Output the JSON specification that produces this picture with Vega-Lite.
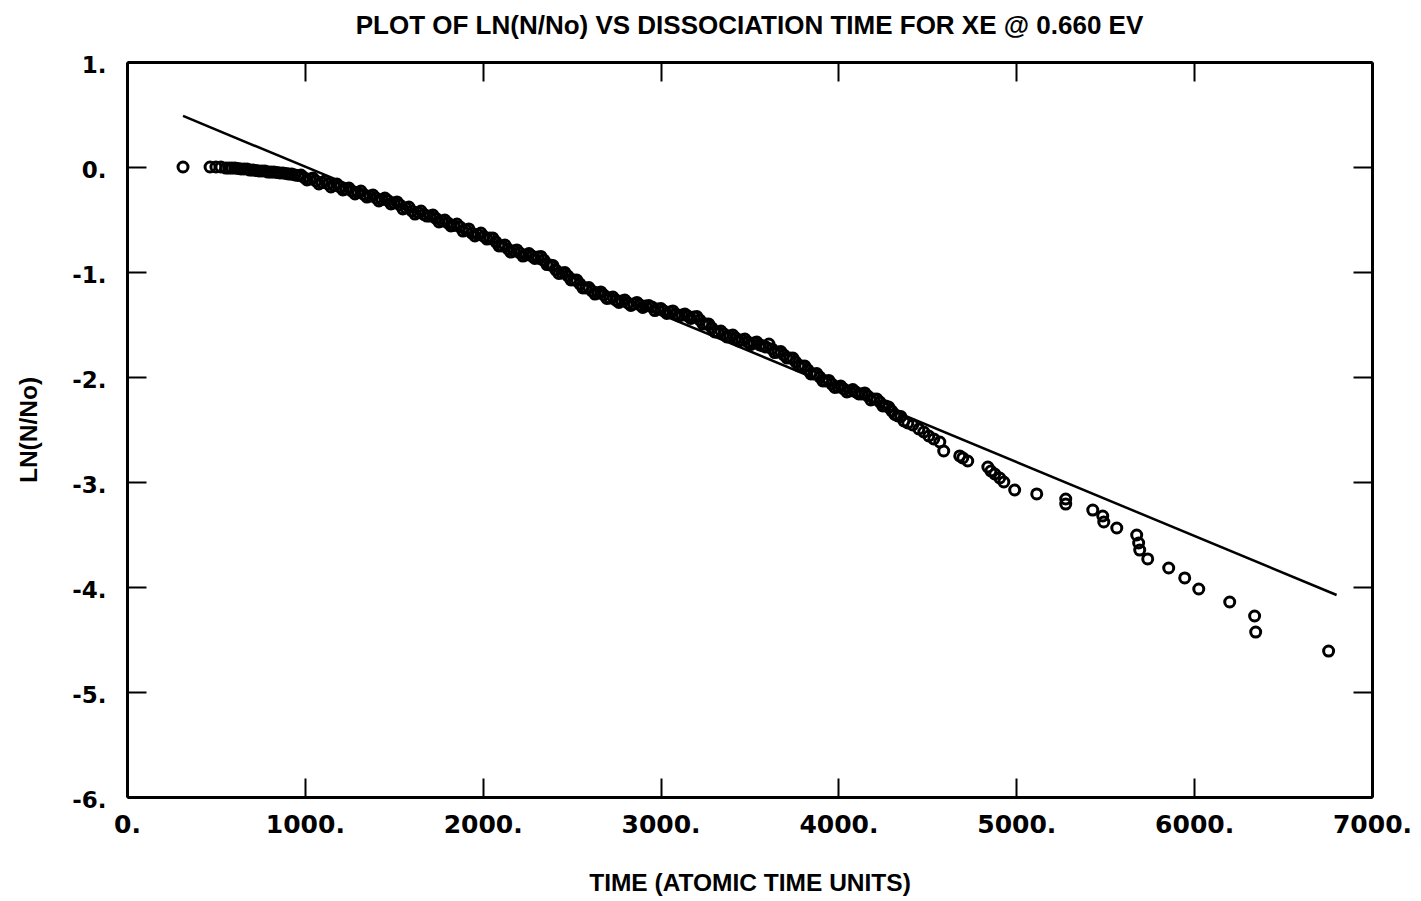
{
  "$schema": "https://vega.github.io/schema/vega-lite/v6.json",
  "width": 1245,
  "height": 735,
  "autosize": {"type": "none"},
  "padding": {"left": 127, "top": 62, "right": 49, "bottom": 104},
  "background": "white",
  "title": {
    "text": "PLOT OF LN(N/No) VS DISSOCIATION TIME FOR XE @ 0.660 EV",
    "font": "Liberation Sans",
    "fontSize": 26,
    "fontWeight": "bold",
    "color": "black",
    "anchor": "middle",
    "offset": 15
  },
  "config": {
    "view": {"stroke": null},
    "axis": {
      "grid": false,
      "domainColor": "black",
      "domainWidth": 3,
      "tickColor": "black",
      "tickWidth": 2,
      "tickSize": -19,
      "labelColor": "black",
      "labelFont": "DejaVu Sans",
      "labelFontWeight": "bold",
      "labelFontSize": 23,
      "labelFlush": false,
      "labelOverlap": false,
      "titleColor": "black",
      "titleFont": "Liberation Sans",
      "titleFontSize": 24.5,
      "titleFontWeight": "bold"
    }
  },
  "datasets": {
    "pts": [
      {"t":315,"v":0},{"t":467,"v":0},{"t":500,"v":0},{"t":528,"v":0},
      {"t":556,"v":-0.010},{"t":590,"v":-0.010},{"t":624,"v":-0.014},{"t":658,"v":-0.019},{"t":691,"v":-0.029},{"t":725,"v":-0.033},{"t":759,"v":-0.038},{"t":793,"v":-0.048},{"t":826,"v":-0.048},{"t":860,"v":-0.057},{"t":894,"v":-0.062},{"t":927,"v":-0.067},{"t":961,"v":-0.081},{"t":995,"v":-0.100},{"t":1029,"v":-0.114},{"t":1062,"v":-0.133},{"t":1096,"v":-0.148},{"t":1130,"v":-0.162},{"t":1164,"v":-0.176},{"t":1197,"v":-0.190},{"t":1231,"v":-0.210},{"t":1265,"v":-0.229},{"t":1298,"v":-0.243},{"t":1332,"v":-0.262},{"t":1366,"v":-0.276},{"t":1400,"v":-0.295},{"t":1433,"v":-0.310},{"t":1467,"v":-0.319},{"t":1501,"v":-0.343},{"t":1535,"v":-0.362},{"t":1568,"v":-0.390},{"t":1602,"v":-0.419},{"t":1636,"v":-0.433},{"t":1669,"v":-0.452},{"t":1703,"v":-0.467},{"t":1737,"v":-0.490},{"t":1771,"v":-0.514},{"t":1804,"v":-0.533},{"t":1838,"v":-0.557},{"t":1872,"v":-0.571},{"t":1906,"v":-0.600},{"t":1939,"v":-0.629},{"t":1973,"v":-0.643},{"t":2007,"v":-0.662},{"t":2040,"v":-0.676},{"t":2074,"v":-0.714},{"t":2108,"v":-0.752},{"t":2142,"v":-0.781},{"t":2175,"v":-0.800},{"t":2209,"v":-0.819},{"t":2243,"v":-0.838},{"t":2277,"v":-0.848},{"t":2310,"v":-0.857},{"t":2344,"v":-0.886},{"t":2378,"v":-0.933},{"t":2411,"v":-0.981},{"t":2445,"v":-1.010},{"t":2479,"v":-1.038},{"t":2513,"v":-1.076},{"t":2546,"v":-1.114},{"t":2580,"v":-1.152},{"t":2614,"v":-1.181},{"t":2648,"v":-1.200},{"t":2681,"v":-1.219},{"t":2715,"v":-1.248},{"t":2749,"v":-1.267},{"t":2782,"v":-1.276},{"t":2816,"v":-1.295},{"t":2850,"v":-1.305},{"t":2884,"v":-1.314},{"t":2917,"v":-1.324},{"t":2951,"v":-1.333},{"t":2985,"v":-1.352},{"t":3018,"v":-1.371},{"t":3052,"v":-1.381},{"t":3086,"v":-1.400},{"t":3120,"v":-1.410},{"t":3153,"v":-1.419},{"t":3187,"v":-1.429},{"t":3221,"v":-1.457},{"t":3255,"v":-1.495},{"t":3288,"v":-1.533},{"t":3322,"v":-1.571},{"t":3356,"v":-1.590},{"t":3389,"v":-1.610},{"t":3423,"v":-1.629},{"t":3457,"v":-1.648},{"t":3491,"v":-1.667},{"t":3524,"v":-1.676},{"t":3558,"v":-1.695},{"t":3592,"v":-1.714},{"t":3626,"v":-1.733},{"t":3659,"v":-1.762},{"t":3693,"v":-1.790},{"t":3727,"v":-1.819},{"t":3760,"v":-1.857},{"t":3794,"v":-1.895},{"t":3828,"v":-1.933},{"t":3862,"v":-1.971},{"t":3895,"v":-2.000},{"t":3929,"v":-2.038},{"t":3963,"v":-2.067},{"t":3997,"v":-2.095},{"t":4030,"v":-2.114},{"t":4064,"v":-2.133},{"t":4098,"v":-2.143},{"t":4131,"v":-2.162},{"t":4165,"v":-2.181},{"t":4199,"v":-2.210},{"t":4233,"v":-2.238},{"t":4266,"v":-2.276},{"t":4300,"v":-2.324},{"t":4334,"v":-2.371},{"t":4368,"v":-2.419},
      {"t":573,"v":-0.010},{"t":607,"v":-0.010},{"t":641,"v":-0.019},{"t":675,"v":-0.019},{"t":708,"v":-0.029},{"t":742,"v":-0.038},{"t":776,"v":-0.038},{"t":809,"v":-0.048},{"t":843,"v":-0.052},{"t":877,"v":-0.057},{"t":911,"v":-0.067},{"t":944,"v":-0.076},{"t":978,"v":-0.076},{"t":1012,"v":-0.124},{"t":1046,"v":-0.105},{"t":1079,"v":-0.162},{"t":1113,"v":-0.133},{"t":1147,"v":-0.190},{"t":1180,"v":-0.162},{"t":1214,"v":-0.219},{"t":1248,"v":-0.200},{"t":1282,"v":-0.257},{"t":1315,"v":-0.229},{"t":1349,"v":-0.286},{"t":1383,"v":-0.267},{"t":1416,"v":-0.324},{"t":1450,"v":-0.295},{"t":1484,"v":-0.352},{"t":1518,"v":-0.333},{"t":1551,"v":-0.400},{"t":1585,"v":-0.381},{"t":1619,"v":-0.448},{"t":1653,"v":-0.419},{"t":1686,"v":-0.467},{"t":1720,"v":-0.457},{"t":1754,"v":-0.524},{"t":1787,"v":-0.505},{"t":1821,"v":-0.562},{"t":1855,"v":-0.543},{"t":1889,"v":-0.610},{"t":1922,"v":-0.590},{"t":1956,"v":-0.657},{"t":1990,"v":-0.629},{"t":2024,"v":-0.686},{"t":2057,"v":-0.676},{"t":2091,"v":-0.752},{"t":2125,"v":-0.743},{"t":2158,"v":-0.810},{"t":2192,"v":-0.790},{"t":2226,"v":-0.848},{"t":2260,"v":-0.824},{"t":2293,"v":-0.871},{"t":2327,"v":-0.852},{"t":2361,"v":-0.929},{"t":2395,"v":-0.938},{"t":2428,"v":-1.014},{"t":2462,"v":-1.005},{"t":2496,"v":-1.076},{"t":2529,"v":-1.076},{"t":2563,"v":-1.152},{"t":2597,"v":-1.148},{"t":2631,"v":-1.210},{"t":2664,"v":-1.190},{"t":2698,"v":-1.252},{"t":2732,"v":-1.238},{"t":2766,"v":-1.290},{"t":2799,"v":-1.267},{"t":2833,"v":-1.319},{"t":2867,"v":-1.290},{"t":2900,"v":-1.338},{"t":2934,"v":-1.319},{"t":2968,"v":-1.367},{"t":3002,"v":-1.348},{"t":3035,"v":-1.395},{"t":3069,"v":-1.371},{"t":3103,"v":-1.419},{"t":3137,"v":-1.400},{"t":3170,"v":-1.443},{"t":3204,"v":-1.424},{"t":3238,"v":-1.495},{"t":3271,"v":-1.495},{"t":3305,"v":-1.571},{"t":3339,"v":-1.562},{"t":3373,"v":-1.619},{"t":3406,"v":-1.600},{"t":3440,"v":-1.657},{"t":3474,"v":-1.638},{"t":3508,"v":-1.690},{"t":3541,"v":-1.667},{"t":3575,"v":-1.705},{"t":3609,"v":-1.686},{"t":3642,"v":-1.767},{"t":3676,"v":-1.757},{"t":3710,"v":-1.819},{"t":3744,"v":-1.819},{"t":3777,"v":-1.895},{"t":3811,"v":-1.895},{"t":3845,"v":-1.971},{"t":3878,"v":-1.967},{"t":3912,"v":-2.038},{"t":3946,"v":-2.033},{"t":3980,"v":-2.100},{"t":4013,"v":-2.086},{"t":4047,"v":-2.143},{"t":4081,"v":-2.119},{"t":4115,"v":-2.162},{"t":4148,"v":-2.152},{"t":4182,"v":-2.219},{"t":4216,"v":-2.210},{"t":4249,"v":-2.276},{"t":4283,"v":-2.286},{"t":4317,"v":-2.357},{"t":4351,"v":-2.376},
      {"t":4390,"v":-2.438},{"t":4418,"v":-2.457},{"t":4452,"v":-2.495},{"t":4480,"v":-2.524},{"t":4508,"v":-2.562},{"t":4536,"v":-2.590},{"t":4570,"v":-2.619},{"t":4592,"v":-2.705},{"t":4682,"v":-2.752},{"t":4699,"v":-2.771},{"t":4727,"v":-2.800},{"t":4840,"v":-2.857},{"t":4857,"v":-2.895},{"t":4879,"v":-2.924},{"t":4907,"v":-2.962},{"t":4930,"v":-3.000},{"t":4991,"v":-3.076},{"t":5115,"v":-3.114},{"t":5278,"v":-3.162},{"t":5278,"v":-3.210},{"t":5430,"v":-3.267},{"t":5486,"v":-3.324},{"t":5492,"v":-3.381},{"t":5565,"v":-3.438},{"t":5677,"v":-3.505},{"t":5688,"v":-3.581},{"t":5694,"v":-3.648},{"t":5739,"v":-3.733},{"t":5857,"v":-3.819},{"t":5947,"v":-3.914},{"t":6026,"v":-4.019},{"t":6200,"v":-4.143},{"t":6340,"v":-4.276},{"t":6346,"v":-4.429},{"t":6756,"v":-4.610}
    ],
    "fit": [
      {"t":315,"v":0.486},{"t":6801,"v":-4.076}
    ]
  },
  "layer": [
    {
      "data": {"name": "pts"},
      "mark": {"type": "point", "shape": "circle", "filled": false, "stroke": "black", "strokeWidth": 3, "size": 100, "opacity": 1},
      "encoding": {
        "x": {"field": "t", "type": "quantitative",
              "scale": {"domain": [0, 7000], "nice": false, "zero": false},
              "axis": {"orient": "bottom", "values": [0,1000,2000,3000,4000,5000,6000,7000],
                       "labelExpr": "datum.value + '.'", "labelPadding": 34, "labelFontSize": 25,
                       "title": "TIME (ATOMIC TIME UNITS)", "titlePadding": 34}},
        "y": {"field": "v", "type": "quantitative",
              "scale": {"domain": [-6, 1], "nice": false, "zero": false},
              "axis": {"orient": "left", "values": [-6,-5,-4,-3,-2,-1,0,1],
                       "labelExpr": "datum.value + '.'", "labelPadding": 40, "labelOffset": 3,
                       "title": "LN(N/No)", "titlePadding": 30}}
      }
    },
    {
      "data": {"name": "fit"},
      "mark": {"type": "line", "color": "black", "strokeWidth": 2.5},
      "encoding": {
        "x": {"field": "t", "type": "quantitative",
              "scale": {"domain": [0, 7000], "nice": false, "zero": false},
              "axis": {"orient": "top", "values": [0,1000,2000,3000,4000,5000,6000,7000], "labels": false, "title": null}},
        "y": {"field": "v", "type": "quantitative",
              "scale": {"domain": [-6, 1], "nice": false, "zero": false},
              "axis": {"orient": "right", "values": [-6,-5,-4,-3,-2,-1,0,1], "labels": false, "title": null}}
      }
    }
  ],
  "resolve": {"axis": {"x": "independent", "y": "independent"}}
}
